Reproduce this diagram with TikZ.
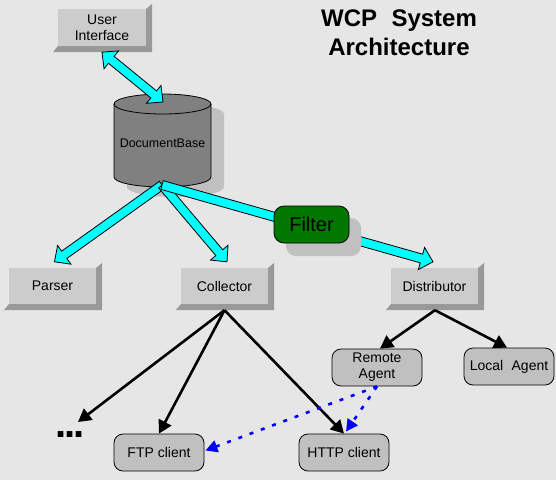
\documentclass[tikz,border=0pt]{standalone}
\usepackage{fontspec}
\setmainfont{Liberation Sans}
\usetikzlibrary{calc,arrows.meta}
\definecolor{bg}{HTML}{E6E6E6}
\definecolor{face}{HTML}{CCCCCC}
\definecolor{bevelc}{HTML}{999999}
\definecolor{rbox}{HTML}{C0C0C0}
\definecolor{shadowc}{HTML}{C0C0C0}
\definecolor{cylc}{HTML}{808080}
\definecolor{filtergreen}{HTML}{007800}
\definecolor{cyanc}{HTML}{00FFFF}
\newcommand\bevelof[1]{\fill[bevelc] (#1.north east) -- ++(6,-5) -- ($(#1.south east)+(6,6)$) -- ($(#1.south west)+(-5,6)$) -- (#1.south west) -- (#1.south east) -- cycle;}
\newcommand\cyanarrow[2]{%
  \coordinate (qa) at (#1); \coordinate (qb) at (#2);
  \coordinate (qh) at ($(qb)!12pt!(qa)$);
  \filldraw[cyanfill] ($(qa)!4.5pt!90:(qb)$) -- ($(qh)!4.5pt!90:(qb)$) -- ($(qh)!11.5pt!90:(qb)$) -- (qb)
    -- ($(qh)!11.5pt!-90:(qb)$) -- ($(qh)!4.5pt!-90:(qb)$) -- ($(qa)!4.5pt!-90:(qb)$) -- cycle;}
\newcommand\cyandouble[2]{%
  \coordinate (qa) at (#1); \coordinate (qb) at (#2);
  \coordinate (qh) at ($(qb)!12pt!(qa)$);
  \coordinate (qt) at ($(qa)!12pt!(qb)$);
  \filldraw[cyanfill] (qa) -- ($(qt)!11.5pt!90:(qb)$) -- ($(qt)!4.5pt!90:(qb)$) -- ($(qh)!4.5pt!90:(qb)$) -- ($(qh)!11.5pt!90:(qb)$) -- (qb)
    -- ($(qh)!11.5pt!-90:(qb)$) -- ($(qh)!4.5pt!-90:(qb)$) -- ($(qt)!4.5pt!-90:(qb)$) -- ($(qt)!11.5pt!-90:(qb)$) -- cycle;}
\tikzset{
  bevelbox/.style={rectangle, fill=face, minimum width=87pt, minimum height=36pt, inner sep=0pt, align=center, font=\fontsize{14}{17}\selectfont},
  roundbox/.style={rectangle, rounded corners=9pt, draw=black, line width=0.8pt, fill=rbox, minimum width=90pt, minimum height=37pt, inner sep=0pt, align=center, font=\fontsize{14}{16}\selectfont},
  blackarrow/.style={line width=2.6pt, -{Triangle[length=13pt,width=14pt]}},
  bluearrow/.style={draw=blue, line width=2.6pt, dash pattern=on 4pt off 8pt, -{Triangle[length=12pt,width=12pt]}},
  cyanfill/.style={fill=cyanc, draw=black, line width=0.8pt, line join=miter},
  cylpath/.style={line width=0.8pt},
}
\begin{document}
\begin{tikzpicture}[x=1pt,y=-1pt]
\fill[bg] (0,0) rectangle (556,480);
\useasboundingbox (0,0) rectangle (556,480);
% title
\node[font=\fontsize{24}{29}\bfseries\selectfont, align=center] (title) at (399,33) {WCP\hspace{0.6em}System\\Architecture};
% bevel boxes
\node[bevelbox, minimum width=88pt, minimum height=37pt] (ui) at (102,27.5) {User\\[-1pt]Interface};
\bevelof{ui}
\node[bevelbox] (parser) at (52.5,286) {Parser};
\bevelof{parser}
\node[bevelbox] (collector) at (224.5,286) {Collector};
\bevelof{collector}
\node[bevelbox] (distributor) at (434.5,286) {Distributor};
\bevelof{distributor}
% cylinder
\begin{scope}[shift={(13,10)}]
\fill[shadowc] (114,104) -- (114,177) arc (180:360:48.5pt and 10pt) -- (211,104) arc (0:180:48.5pt and 10pt) -- cycle;
\end{scope}
\filldraw[fill=cylc, draw=black, cylpath] (114,104) -- (114,177) arc (180:360:48.5pt and 10pt) -- (211,104) arc (0:180:48.5pt and 10pt) -- cycle;
\draw[cylpath] (114,104) arc (180:360:48.5pt and 10pt);
\node[font=\fontsize{12.5}{15}\selectfont] (db) at (162.5,143) {DocumentBase};
\coordinate (dbtop) at ($(db)+(0.5,-41)$);
\coordinate (dbbot) at ($(db)+(-0.5,42)$);
% cyan arrows
\coordinate (uibot) at ($(ui.south)+(0,6)$);
\cyandouble{uibot}{dbtop}
\coordinate (parsertop) at ($(parser.north)+(2,-6)$);
\coordinate (colltop) at ($(collector.north)+(2.5,-6)$);
\coordinate (disttop) at ($(distributor.north)+(-1.5,-6)$);
\cyanarrow{dbbot}{parsertop}
\cyanarrow{dbbot}{colltop}
\cyanarrow{dbbot}{disttop}
% filter
\fill[shadowc, rounded corners=10pt] (286,218) rectangle (361,256);
\node[rectangle, rounded corners=10pt, draw=black, line width=0.8pt, fill=filtergreen, minimum width=75pt, minimum height=37pt, font=\fontsize{20}{22}\selectfont] (filter) at (311.5,224.5) {Filter};
% round boxes
\node[roundbox] (remote) at (377,367.5) {Remote\\Agent};
\node[roundbox] (local) at (509,366.5) {Local\hspace{0.6em}Agent};
\node[roundbox] (ftp) at (159,452.5) {FTP client};
\node[roundbox] (http) at (344,452.5) {HTTP client};
\node[font=\fontsize{40}{40}\bfseries\selectfont, inner sep=0pt] (dots) at (70,435) {.\kern-2pt.\kern-2pt.};
% black arrows
\coordinate (collbot) at ($(collector.south)+(0,6)$);
\coordinate (distbot) at ($(distributor.south)+(0.5,6)$);
\coordinate (dotsend) at ($(dots)+(8,-13)$);
\draw[blackarrow] (collbot) -- (dotsend);
\draw[blackarrow] (collbot) -- (ftp.north);
\draw[blackarrow] (collbot) -- (http.north);
\draw[blackarrow] (distbot) -- ($(remote.north)+(3,0)$);
\draw[blackarrow] (distbot) -- ($(local.north)+(-2,0)$);
% blue dotted arrows
\draw[bluearrow] (remote.south) -- ($(ftp.east)+(1,-2)$);
\draw[bluearrow] (remote.south) -- ($(http.north)+(2,-2)$);
\end{tikzpicture}
\end{document}
